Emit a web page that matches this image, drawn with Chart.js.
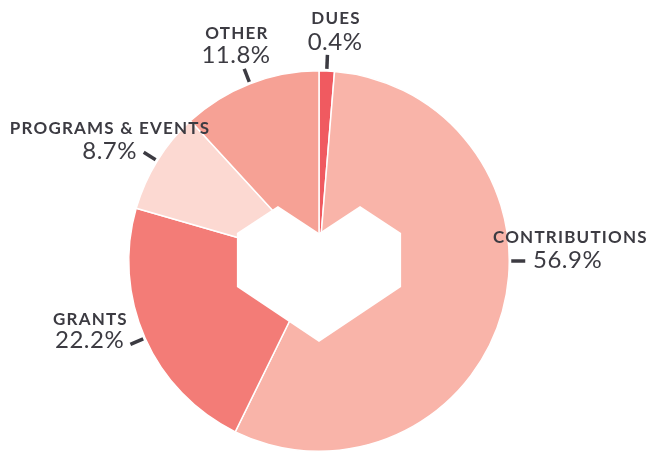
<!DOCTYPE html>
<html>
<head>
<meta charset="utf-8">
<script src="https://cdn.jsdelivr.net/npm/chart.js@4"></script>
<style>
  html, body { margin: 0; padding: 0; background: #fff; }
  #wrap { width: 647px; height: 454px; }
</style>
</head>
<body>
<div id="wrap"><canvas id="chart"></canvas></div>
<script>
// categories, drawn slice sizes and the percentages printed beside them
const categories = ['DUES', 'CONTRIBUTIONS', 'GRANTS', 'PROGRAMS & EVENTS', 'OTHER'];
const values = [1.3, 55.9, 22.2, 8.7, 11.8];
const pctLabels = ['0.4%', '56.9%', '22.2%', '8.7%', '11.8%'];

const colors = ['#f05a60', '#f9b4a9', '#f37c77', '#fcd9d2', '#f6a195'];
const textColor = '#3c3b42';

// where each label sits (name and percentage), and the leader angle override
const labelLayout = [
    { name: [336, 24, 'center'], pct: [335, 50, 'center'] },
    { name: [493, 243, 'left'], pct: [533, 268, 'left'], angle: 90 },
    { name: [53, 325, 'left'], pct: [55, 348, 'left'] },
    { name: [110, 134, 'center'], pct: [137, 159, 'right'] },
    { name: [237, 39, 'center'], pct: [236, 63, 'center'] }
];

// heart shaped hole, in units of the outer radius
const heart = [[-41, -55], [-82, -28], [-82, 26], [0, 81], [82, 26], [82, -28], [41, -55], [0, -28]];

const labelPlugin = {
    id: 'labels',
    afterDatasetsDraw(chart) {
        const ctx = chart.ctx;
        const arcs = chart.getDatasetMeta(0).data;
        const cx = arcs[0].x, cy = arcs[0].y, r = arcs[0].outerRadius;

        // heart
        ctx.save();
        ctx.fillStyle = '#fff';
        ctx.beginPath();
        heart.forEach((p, i) => {
            const x = cx + p[0] / 190 * r, y = cy + p[1] / 190 * r;
            if (i === 0) ctx.moveTo(x, y); else ctx.lineTo(x, y);
        });
        ctx.closePath();
        ctx.fill();

        // leader lines
        ctx.strokeStyle = textColor;
        ctx.lineWidth = 3.5;
        arcs.forEach((arc, i) => {
            let a = (arc.startAngle + arc.endAngle) / 2;
            if (labelLayout[i].angle !== undefined) a = (labelLayout[i].angle - 90) * Math.PI / 180;
            ctx.beginPath();
            ctx.moveTo(cx + Math.cos(a) * (r + 2), cy + Math.sin(a) * (r + 2));
            ctx.lineTo(cx + Math.cos(a) * (r + 16), cy + Math.sin(a) * (r + 16));
            ctx.stroke();
        });

        // texts
        ctx.fillStyle = textColor;
        ctx.textBaseline = 'alphabetic';
        categories.forEach((c, i) => {
            const l = labelLayout[i];
            ctx.font = 'bold 17px Lato';
            ctx.letterSpacing = '1.2px';
            ctx.textAlign = l.name[2];
            ctx.fillText(c, l.name[0], l.name[1]);
            ctx.font = '24px Lato';
            ctx.letterSpacing = '0.5px';
            ctx.textAlign = l.pct[2];
            ctx.fillText(pctLabels[i], l.pct[0], l.pct[1]);
        });
        ctx.restore();
    }
};

new Chart(document.getElementById('chart').getContext('2d'), {
    type: 'pie',
    data: {
        labels: categories,
        datasets: [{
            data: values,
            backgroundColor: colors,
            borderColor: '#fff',
            borderWidth: 1.5
        }]
    },
    options: {
        responsive: true,
        maintainAspectRatio: false,
        animation: false,
        layout: { padding: { top: 70, bottom: 2, left: 0, right: 9 } },
        plugins: {
            legend: { display: false },
            tooltip: { enabled: false }
        }
    },
    plugins: [labelPlugin]
});
</script>
</body>
</html>
